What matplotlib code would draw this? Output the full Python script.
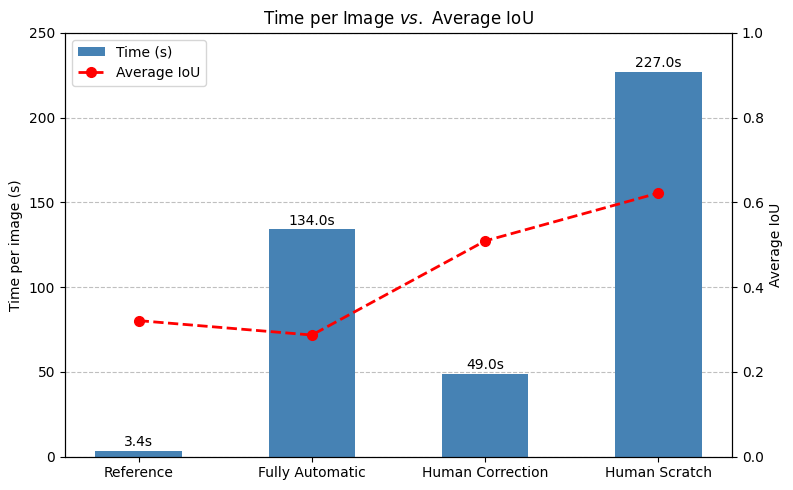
import matplotlib
matplotlib.use("Agg")
import matplotlib.pyplot as plt

methods = ["Reference", "Fully Automatic", "Human Correction", "Human Scratch"]
times = [3.4, 134.0, 49.0, 227.0]
ious = [0.321, 0.287, 0.509, 0.622]

fig, ax1 = plt.subplots(figsize=(7.93, 4.9), dpi=100)

x = range(len(methods))
bars = ax1.bar(x, times, width=0.5, color="steelblue", label="Time (s)")
for b, t in zip(bars, times):
    ax1.text(b.get_x() + b.get_width() / 2, b.get_height() + 1, f"{t:.1f}s",
             ha="center", va="bottom")
ax1.set_ylim(0, 250)
ax1.set_ylabel("Time per image (s)")
ax1.set_xticks(list(x))
ax1.set_xticklabels(methods)
ax1.yaxis.grid(True, linestyle="--", color="gray", alpha=0.5)
ax1.set_axisbelow(True)

ax2 = ax1.twinx()
line, = ax2.plot(x, ious, "r--o", linewidth=2, markersize=7, label="Average IoU")
ax2.set_ylim(0, 1.0)
ax2.set_ylabel("Average IoU")

ax1.legend([bars, line], ["Time (s)", "Average IoU"], loc="upper left")
ax1.set_title(r"Time per Image $\it{vs.}$ Average IoU")

fig.subplots_adjust(left=0.082, right=0.923, top=0.933, bottom=0.068)
plt.savefig("out.png")
